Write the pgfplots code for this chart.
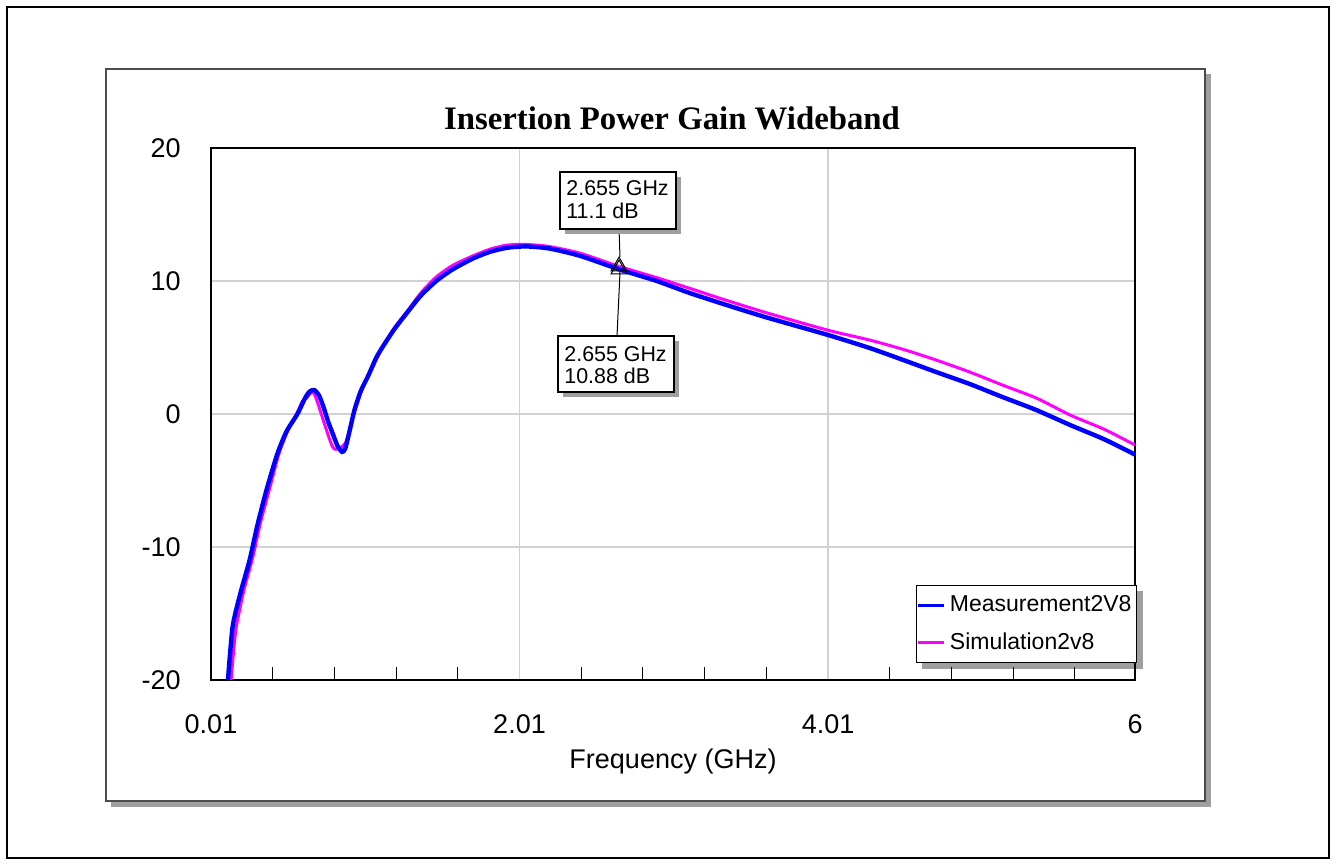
\documentclass[border=0pt]{standalone}
\usepackage{fontspec}
\setmainfont{Liberation Sans}
\newfontfamily\titlefont{Liberation Serif}
\usepackage{pgfplots}
\pgfplotsset{compat=1.18}
\definecolor{measblue}{RGB}{0,0,255}
\definecolor{simmag}{RGB}{255,0,255}
\pgfdeclarelayer{back}
\pgfdeclarelayer{shadow}
\pgfsetlayers{back,shadow,main}

\begin{document}
\begin{tikzpicture}
% frame in pixel units: 1px = 0.5pt, origin at top left
\begin{pgfonlayer}{back}
\begin{scope}[x=0.5pt,y=-0.5pt]
\path[use as bounding box] (0,0) rectangle (1336,865);
\draw[line width=1.2pt] (7,7) rectangle (1329,858);
\fill[gray!75] (111,74) rectangle (1211,807);
\draw[fill=white, draw=gray!60!black, line width=0.6pt] (106,69) rectangle (1205,801);
\end{scope}
\end{pgfonlayer}
\begin{scope}[x=0.5pt,y=-0.5pt]
\node[anchor=base, inner sep=0pt, font=\titlefont\bfseries\fontsize{16.4}{20}\selectfont] at (672,130) {Insertion Power Gain Wideband};
\node[anchor=base, inner sep=0pt, font=\fontsize{13.5}{16}\selectfont] at (673,768) {Frequency (GHz)};
\end{scope}

\begin{axis}[
  at={(105.5pt,-340pt)}, anchor=south west,
  scale only axis, width=462pt, height=266pt,
  xmin=0.01, xmax=6, ymin=-20, ymax=20,
  xtick={0.01,2.01,4.01,6}, xticklabels={0.01,2.01,4.01,6},
  minor xtick={0.41,0.81,1.21,1.61,2.41,2.81,3.21,3.61,4.41,4.81,5.21,5.61},
  ytick={-20,-10,0,10,20}, yticklabels={-20,-10,0,10,20},
  xmajorgrids, ymajorgrids,
  grid style={gray!35, line width=0.6pt},
  major tick length=0pt, minor tick length=6.5pt,
  tick align=inside, tick pos=left,
  minor tick style={black, line width=0.5pt},
  axis line style={black, line width=0.9pt},
  xticklabel style={anchor=base, inner sep=0pt, yshift=-26.5pt, font=\fontsize{13.5}{16}\selectfont},
  yticklabel style={anchor=east, inner sep=0pt, xshift=-15pt, font=\fontsize{13.5}{16}\selectfont},
  reverse legend,
  legend cell align=left,
  legend style={name=leg, at={(1.002,0.032)}, anchor=south east, draw=black, fill=white,
    font=\fontsize{11.5}{14}\selectfont, inner xsep=0.5pt, inner ysep=3pt, row sep=5pt},
  legend image code/.code={\draw[#1, line width=1.5pt] (0pt,0pt) -- (13pt,0pt);},
]

\addplot[simmag, line width=1.5pt, smooth, tension=0.4] coordinates {
  (0.14,-20.0) (0.17,-16.3) (0.22,-13.4) (0.28,-10.8) (0.33,-8.2)
  (0.39,-5.6) (0.45,-3.0) (0.51,-1.2) (0.57,0.1) (0.60,0.9)
  (0.63,1.2) (0.68,1.5) (0.80,-2.5) (0.88,-2.2) (0.92,-0.6)
  (0.95,0.5) (0.99,1.9) (1.04,3.1) (1.12,5.0) (1.20,6.5) (1.28,7.7)
  (1.37,9.1) (1.47,10.3) (1.58,11.2) (1.71,11.9) (1.82,12.4) (1.93,12.7)
  (2.05,12.75) (2.20,12.6) (2.40,12.1) (2.655,11.1) (2.90,10.25)
  (3.10,9.5) (3.31,8.7) (3.60,7.65) (4.01,6.3) (4.28,5.56)
  (4.50,4.85) (4.71,4.06) (4.93,3.15) (5.14,2.18) (5.36,1.2)
  (5.58,-0.08) (5.80,-1.15) (6.00,-2.33)
};
\addlegendentry{Simulation2v8}

\addplot[measblue, line width=2.2pt, smooth, tension=0.4] coordinates {
  (0.12,-20.0) (0.15,-16.0) (0.20,-13.5) (0.26,-11.0) (0.31,-8.4)
  (0.37,-5.7) (0.44,-3.0) (0.50,-1.3) (0.57,0.0) (0.62,1.2)
  (0.65,1.7) (0.68,1.8) (0.71,1.4) (0.74,0.5) (0.77,-0.6)
  (0.80,-1.5) (0.83,-2.4) (0.86,-2.85) (0.88,-2.6) (0.91,-1.2)
  (0.94,0.3) (0.98,1.7) (1.03,2.9) (1.08,4.2) (1.12,5.0)
  (1.20,6.4) (1.28,7.6) (1.37,8.9) (1.47,10.0) (1.58,10.9)
  (1.71,11.7) (1.82,12.2) (1.93,12.5) (2.05,12.6) (2.20,12.45)
  (2.40,11.9) (2.655,10.88) (2.90,10.0) (3.10,9.15) (3.31,8.35)
  (3.60,7.3) (4.01,5.94) (4.28,4.96) (4.50,4.05) (4.71,3.16)
  (4.93,2.25) (5.14,1.28) (5.36,0.3) (5.58,-0.83) (5.80,-1.9)
  (6.00,-3.05)
};
\addlegendentry{Measurement2V8}

\addplot[only marks, mark=triangle, mark size=4.6pt, black,
  mark options={line width=0.5pt}, forget plot]
  coordinates {(2.655,11.1) (2.655,10.88)};
\end{axis}

% legend shadow, behind the legend box
\begin{pgfonlayer}{shadow}
\fill[gray!75] ([shift={(3pt,-3pt)}]leg.south west) rectangle ([shift={(3pt,-3pt)}]leg.north east);
\end{pgfonlayer}

% marker readouts
\begin{scope}[x=0.5pt,y=-0.5pt]
\draw[line width=0.5pt] (619,229) -- (620,257);
\draw[line width=0.5pt] (620,272) -- (617,336);
\fill[gray!75] (565,177) rectangle (681,234);
\draw[fill=white, line width=0.6pt] (560,172) rectangle (676,229);
\node[anchor=base west, inner sep=0pt, font=\fontsize{10.7}{13}\selectfont] at (566,196) {2.655 GHz};
\node[anchor=base west, inner sep=0pt, font=\fontsize{10.7}{13}\selectfont] at (566,219) {11.1 dB};
\fill[gray!75] (563,341) rectangle (679,397);
\draw[fill=white, line width=0.6pt] (558,336) rectangle (674,392);
\node[anchor=base west, inner sep=0pt, font=\fontsize{10.7}{13}\selectfont] at (564,362) {2.655 GHz};
\node[anchor=base west, inner sep=0pt, font=\fontsize{10.7}{13}\selectfont] at (564,384) {10.88 dB};
\end{scope}
\end{tikzpicture}
\end{document}
